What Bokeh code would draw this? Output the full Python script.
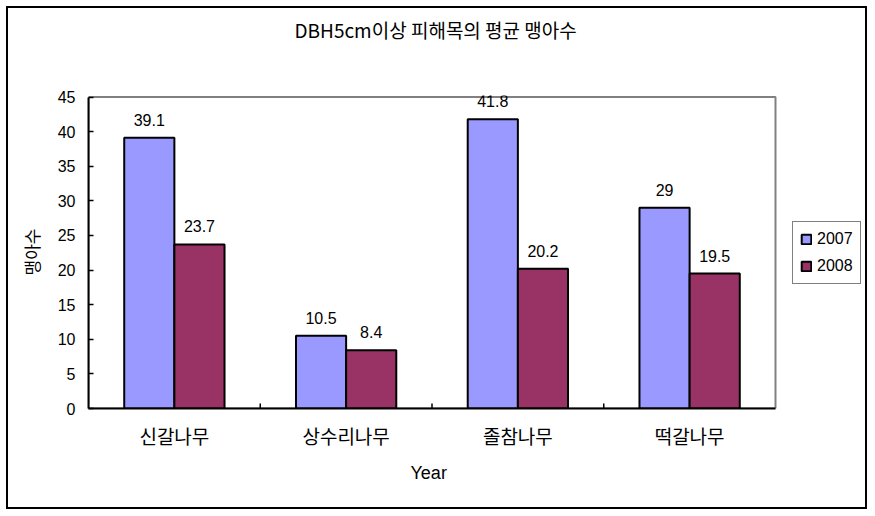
from bokeh.plotting import figure
from bokeh.models import (Range1d, ColumnDataSource, LabelSet, Legend,
                          LegendItem, FixedTicker, Title)
from bokeh.core.properties import value
from bokeh.embed import file_html
from bokeh.resources import INLINE

title = "DBH5cm이상 피해목의 평균 맹아수"
categories = ["신갈나무", "상수리나무", "졸참나무", "떡갈나무"]
series_names = ["2007", "2008"]
values_2007 = [39.1, 10.5, 41.8, 29]
values_2008 = [23.7, 8.4, 20.2, 19.5]
y_ticks = [0, 5, 10, 15, 20, 25, 30, 35, 40, 45]
x_label = "Year"
y_label = "맹아수"

colors = ["#9999FF", "#993366"]
num_font = "Liberation Sans"
kr_font = "Noto Sans CJK KR"

n = len(categories)
ymax = y_ticks[-1]
centers = [i + 0.5 for i in range(n)]
bw = 0.292
off = 0.146

src = ColumnDataSource(dict(
    x07=[c - off for c in centers],
    x08=[c + off for c in centers],
    v07=values_2007,
    v08=values_2008,
    t07=[f"{v:g}" for v in values_2007],
    t08=[f"{v:g}" for v in values_2008],
))
sep_src = ColumnDataSource(dict(x=list(range(1, n)), y=[0] * (n - 1)))

W, H = 861, 503
FL, FR, FT, FB = 80, 856, 87, 400          # frame edges in canvas px
cat_px = 171.75                            # width of one category in px
p = figure(x_range=Range1d(0, (FR - FL) / cat_px), y_range=Range1d(0, ymax + 1.5 / 6.922),
           width=W, height=H, output_backend="svg", toolbar_location=None,
           min_border_left=FL, min_border_right=W - FR, min_border_top=FT,
           min_border_bottom=H - FB)
p.margin = (6, 0, 0, 6)
p.styles = {"border": "2px solid black"}

# main title (outermost) + blank spacer title between it and the plot
p.title.text = title
p.title.align = "left"
p.title.offset = 206
p.title.text_font = kr_font
p.title.text_font_size = "19px"
p.title.text_font_style = "normal"
p.title.text_color = "#000000"
p.title.standoff = 10
p.add_layout(Title(text=" ", text_color="white", text_font_size="10px", standoff=35), "above")

p.outline_line_color = None
p.xgrid.grid_line_color = None
p.ygrid.grid_line_color = None
p.background_fill_color = "white"
p.border_fill_color = "white"

# plot area border (gray)
p.quad(left=0, right=n, bottom=0, top=ymax, fill_color=None,
       line_color="#808080", line_width=2)

r1 = p.vbar(x="x07", top="v07", width=bw, source=src,
            fill_color=colors[0], line_color="black", line_width=2)
r2 = p.vbar(x="x08", top="v08", width=bw, source=src,
            fill_color=colors[1], line_color="black", line_width=2)

# category separator ticks on the x axis (half clipped by frame -> inward ticks)
p.scatter(x="x", y="y", source=sep_src, marker="dash",
          angle=1.5707963, size=10, line_color="black", line_width=1.5)

for xcol, col, tcol in [("x07", "v07", "t07"), ("x08", "v08", "t08")]:
    p.add_layout(LabelSet(x=xcol, y=col, text=tcol, source=src,
                          text_align="center", text_baseline="bottom", y_offset=12,
                          text_font=value(num_font), text_font_size="16px",
                          text_color="#000000"))

# y axis
ya = p.yaxis[0]
ya.ticker = FixedTicker(ticks=y_ticks)
ya.bounds = (0, ymax)
ya.axis_line_color = "black"
ya.axis_line_width = 2
ya.major_tick_in = 5
ya.major_tick_out = 0
ya.major_tick_line_width = 1.5
ya.minor_tick_line_color = None
ya.major_label_text_font = num_font
ya.major_label_text_font_size = "16px"
ya.major_label_text_color = "#000000"
ya.major_label_standoff = 13
ya.axis_label = y_label
ya.axis_label_text_font = kr_font
ya.axis_label_text_font_size = "17px"
ya.axis_label_text_font_style = "normal"
ya.axis_label_text_color = "#000000"
ya.axis_label_standoff = 11

# x axis (category labels)
xa = p.xaxis[0]
xa.ticker = FixedTicker(ticks=centers)
xa.major_label_overrides = {c: lab for c, lab in zip(centers, categories)}
xa.bounds = (0, n)
xa.axis_line_color = "black"
xa.axis_line_width = 2
xa.major_tick_line_color = None
xa.minor_tick_line_color = None
xa.major_label_text_font = kr_font
xa.major_label_text_font_size = "19px"
xa.major_label_text_color = "#000000"
xa.major_label_standoff = 7

p.add_layout(Title(text=x_label, align="left", offset=322, vertical_align="top",
                   standoff=22, text_font=num_font, text_font_size="18px",
                   text_font_style="normal", text_color="#000000"), "below")

legend = Legend(items=[LegendItem(label=series_names[0], renderers=[r1]),
                       LegendItem(label=series_names[1], renderers=[r2])],
                location=(704, 124), orientation="vertical")
legend.border_line_color = "black"
legend.border_line_width = 1
legend.background_fill_color = "white"
legend.label_text_font = num_font
legend.label_text_font_size = "16px"
legend.label_text_color = "#000000"
legend.glyph_width = 12
legend.glyph_height = 12
legend.label_height = 20
legend.label_standoff = 5
legend.spacing = 7
legend.padding = 7
legend.margin = 0
p.add_layout(legend, "center")

open("out.html", "w").write(file_html(p, INLINE))
